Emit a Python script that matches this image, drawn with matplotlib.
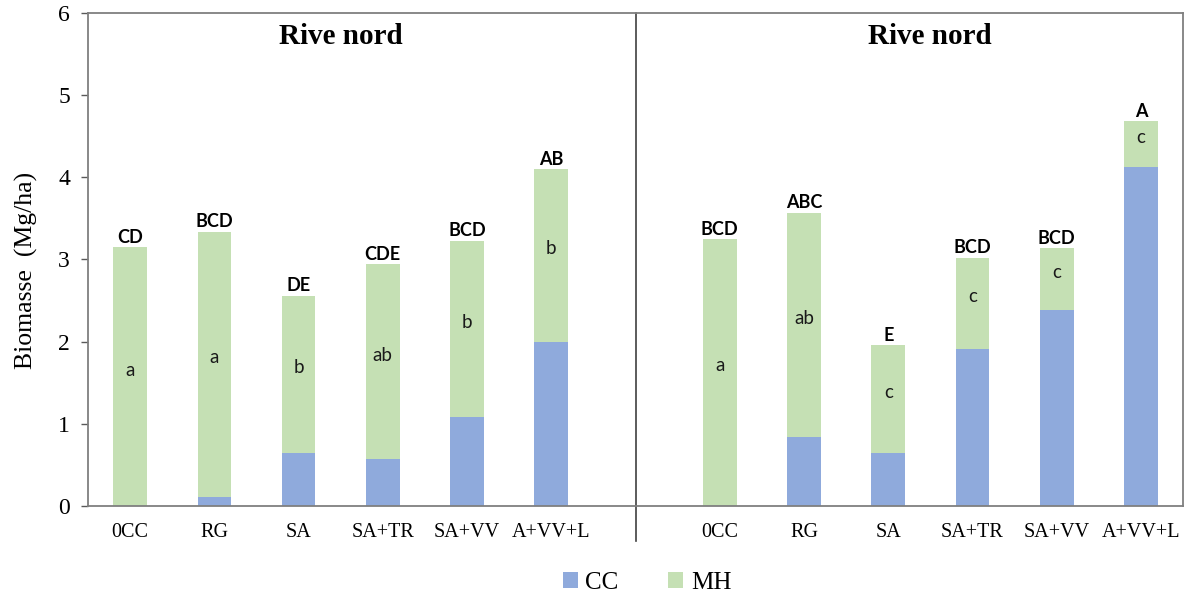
import matplotlib
matplotlib.use("Agg")
import matplotlib.pyplot as plt
from matplotlib.patches import Patch
import numpy as np

treatments = ["0CC", "RG", "SA", "SA+TR", "SA+VV", "A+VV+L"]
panel_titles = ["Rive nord", "Rive nord"]

cc_left = [0.0, 0.11, 0.65, 0.57, 1.08, 2.00]
total_left = [3.15, 3.34, 2.56, 2.94, 3.23, 4.10]
cc_right = [0.0, 0.84, 0.64, 1.91, 2.385, 4.12]
total_right = [3.25, 3.57, 1.96, 3.02, 3.14, 4.685]

top_letters_left = ["CD", "BCD", "DE", "CDE", "BCD", "AB"]
top_letters_right = ["BCD", "ABC", "E", "BCD", "BCD", "A"]
mh_letters_left = ["a", "a", "b", "ab", "b", "b"]
mh_letters_right = ["a", "ab", "c", "c", "c", "c"]

blue = "#8faadc"
green = "#c5e0b4"

fig = plt.figure(figsize=(11.91, 5.96), dpi=100)
ax = fig.add_axes([88/1191, 90/596, (1183-88)/1191, (506-13)/596])

n = len(treatments)
pos_left = np.arange(n)
pos_right = np.arange(n) + n + 1
width = 0.4

for pos, cc, tot, tl, ml in [(pos_left, cc_left, total_left, top_letters_left, mh_letters_left),
                             (pos_right, cc_right, total_right, top_letters_right, mh_letters_right)]:
    cc = np.array(cc)
    mh = np.array(tot) - cc
    ax.bar(pos, cc, width, color=blue, edgecolor="none")
    ax.bar(pos, mh, width, bottom=cc, color=green, edgecolor="none")
    for x, c, t, top, m in zip(pos, cc, tot, tl, ml):
        ax.annotate(top, (x, t), xytext=(0, 1), textcoords="offset points",
                    ha="center", va="bottom", fontsize=13, fontweight="bold",
                    family=["Lato", "DejaVu Sans"], color="black")
        ax.text(x, (c + t) / 2 + 0.08, m, ha="center", va="center", fontsize=13.5,
                family=["Lato", "DejaVu Sans"], color="#1a1a1a")

ax.set_xlim(-0.5, 2 * n + 0.5)
ax.set_ylim(0, 6)
ax.set_yticks(range(7))
ax.set_xticks(list(pos_left) + list(pos_right))
ax.set_xticklabels(treatments + treatments)

for lab in ax.get_xticklabels():
    lab.set_fontfamily("Liberation Serif")
    lab.set_fontsize(14.5)
for lab in ax.get_yticklabels():
    lab.set_fontfamily("Liberation Serif")
    lab.set_fontsize(17)
ax.tick_params(axis="x", length=0, pad=12)
ax.tick_params(axis="y", length=5, width=1, color="#595959", pad=8, direction="out")

for s in ax.spines.values():
    s.set_color("#7f7f7f")
    s.set_linewidth(1.3)

# divider between panels
ax.plot([n, n], [6, -0.42], color="#404040", lw=1.2, clip_on=False)

for cx, title in zip([(n - 1) / 2, n + 1 + (n - 1) / 2], panel_titles):
    ax.text(cx, 5.72, title, ha="center", va="center", fontsize=21, fontweight="bold",
            family="Liberation Serif")

ax.set_ylabel("Biomasse  (Mg/ha)", fontsize=18.5, family="Liberation Serif")
ax.yaxis.set_label_coords(-0.046, 0.478)

handles = [Patch(facecolor=blue, edgecolor="none", label="CC"),
           Patch(facecolor=green, edgecolor="none", label="MH")]
fig.legend(handles=handles, loc="center", bbox_to_anchor=(647/1191, 1 - 583/596), ncol=2,
           frameon=False, handlelength=0.6, handleheight=0.6, handletextpad=0.3,
           columnspacing=2.0, prop={"family": "Liberation Serif", "size": 18})

fig.savefig("out.png", dpi=100)
